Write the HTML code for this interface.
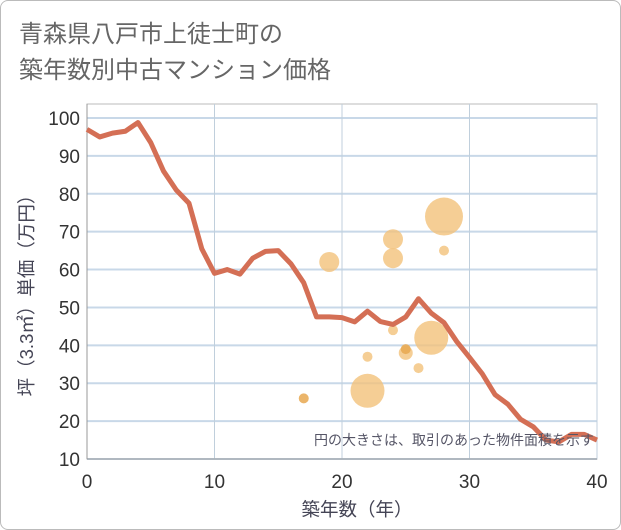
<!DOCTYPE html>
<html><head><meta charset="utf-8"><style>
body{margin:0;background:#fff;font-family:"Liberation Sans","Noto Sans CJK JP",sans-serif}
#wrap{position:relative;width:619px;height:528px;border:1px solid #bbb;border-radius:8px;overflow:hidden}
svg text{font-family:"Liberation Sans","Noto Sans CJK JP",sans-serif}
</style></head><body>
<div id="wrap">
<svg id="c" width="621" height="530">
<text x="18" y="41" font-size="24" fill="#666">青森県八戸市上徒士町の</text>
<text x="18" y="77" font-size="24" fill="#666">築年数別中古マンション価格</text>
<text transform="translate(32,290) rotate(-90)" text-anchor="middle" font-size="18.5" fill="#445">坪（3.3㎡）単価（万円）</text>
<text x="356" y="515" text-anchor="middle" font-size="18.5" fill="#445">築年数（年）</text>
<g id="grid"></g><g id="marks"></g>
<text x="593" y="444" text-anchor="end" font-size="14" fill="#556">円の大きさは、取引のあった物件面積を示す</text>
</svg></div>
<script>
const lineYears=[0,1,2,3,4,5,6,7,8,9,10,11,12,13,14,15,16,17,18,19,20,21,22,23,24,25,26,27,28,29,30,31,32,33,34,35,36,37,38,39,40];
const lineValues=[97,95,96,96.5,98.8,93.5,86,81,77.5,65.5,59,60,58.8,63,64.8,65,61.5,56.5,47.5,47.5,47.3,46.2,49,46.3,45.5,47.5,52.3,48.5,46,41,36.8,32.5,27,24.5,20.5,18.5,15,14.5,16.5,16.5,15];
const bubbleYears=[17,19,22,22,24,24,24,25,25,26,27,28,28];
const bubbleValues=[26,62,37,28,68,63,44,38,39,34,42,74,65];
const bubbleSizes=[5,10,5,17,10,10,5,7,5,5,17,19,5];
const xTicks=[0,10,20,30,40];
const yTicks=[10,20,30,40,50,60,70,80,90,100];
const X0=86,X1=596,Y0=458,Y1=117;
const sx=v=>X0+(v-0)/40*(X1-X0);
const sy=v=>Y0-(v-10)/90*(Y0-Y1);
const NS="http://www.w3.org/2000/svg";
function mk(t,a,p){const e=document.createElementNS(NS,t);for(const k in a)e.setAttribute(k,a[k]);p.appendChild(e);return e;}
const g=document.getElementById('grid'),m=document.getElementById('marks');
mk('rect',{x:X0,y:103,width:X1-X0,height:Y0-103,fill:'none',stroke:'#bbb','stroke-width':1},g);
yTicks.forEach(v=>{
 const l=mk('line',{x1:X0,x2:X1,y1:sy(v),y2:sy(v),stroke:'#c8d8e8','stroke-width':2},g);
 
 
 const t=mk('text',{x:X0-7,y:sy(v)+7,'text-anchor':'end','font-size':19,fill:'#333'},g);t.textContent=v;
 
 
});
xTicks.forEach(v=>{
 const l=mk('line',{x1:sx(v),x2:sx(v),y1:103,y2:Y0,stroke:'#c0cfdc','stroke-width':1},g);
 
 
 const t=mk('text',{x:sx(v),y:487,'text-anchor':'middle','font-size':19,fill:'#333'},g);t.textContent=v;
 
 
});
mk('line',{x1:X0,x2:X1,y1:Y0,y2:Y0,stroke:'#999'},g);
mk('line',{x1:X0,x2:X0,y1:103,y2:Y0,stroke:'#999'},g);
bubbleYears.forEach((v,i)=>{
 const dark=bubbleSizes[i]<=5&&(i===0||i===8);
 const c=mk('circle',{cx:sx(v),cy:sy(bubbleValues[i]),r:bubbleSizes[i],fill:dark?'#e8a850':'#f2c27a','fill-opacity':dark?0.85:0.8},m);
 
 
});
const p=mk('polyline',{points:lineYears.map((v,i)=>sx(v)+','+sy(lineValues[i])).join(' '),fill:'none',stroke:'#d46f55','stroke-width':5,'stroke-linejoin':'round'},m);


</script>
</body></html>
